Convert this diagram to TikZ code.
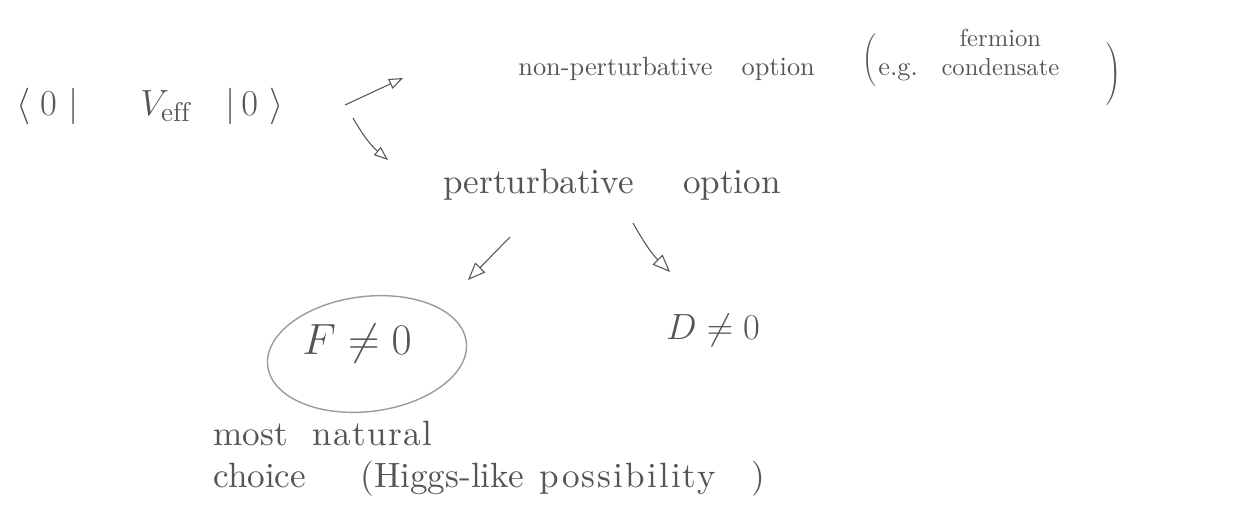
\documentclass[tikz,border=0pt]{standalone}
\usepackage{fontspec}
\setmainfont{lmroman10-regular.otf}
\usetikzlibrary{arrows.meta,shapes.geometric,calc}
\definecolor{pencil}{RGB}{85,85,85}
\definecolor{lightpencil}{RGB}{155,155,155}
\newcommand{\wide}[2]{{\addfontfeature{LetterSpace=#1}#2}}
\newcommand{\tallparen}[3]{\raisebox{#3}{$\left#1\rule[-#2]{0pt}{2\dimexpr#2\relax}\right.$}}
\begin{document}
\begin{tikzpicture}[
  txt/.style={text=pencil, inner sep=0pt},
  arr/.style={draw=pencil, line width=0.6pt, -{Triangle[open,length=8pt,width=6pt]}},
  bigarr/.style={draw=pencil, line width=0.6pt, -{Triangle[open,length=10pt,width=8pt]}},
  oval/.style={ellipse, draw=lightpencil, line width=0.8pt, minimum width=4cm, minimum height=2.3cm, inner sep=0pt}
]
\useasboundingbox (0,0) rectangle (25.1,-10.58);

\node[txt] (bk) at (3.0,-2.12) {\fontsize{22}{26}\selectfont $\langle\hspace{0.25em}0\hspace{0.3em}|\hspace{1.6em}V_{\mathrm{eff}}\hspace{0.9em}|\hspace{0.15em}0\hspace{0.3em}\rangle$};

\node[txt, anchor=base west] (np) at (10.36,-1.50) {\fontsize{15}{18}\selectfont non-perturbative\hspace{1.1em}option\hspace{1.8em}\tallparen{(}{13pt}{5pt}e.g.\hspace{0.9em}{\fontsize{14}{16}\selectfont\begin{tabular}[b]{@{}c@{}}fermion\\condensate\end{tabular}}\hspace{1.8em}\tallparen{)}{15pt}{-3pt}};

\node[txt, anchor=base] (p) at (12.24,-3.86) {\fontsize{20}{24}\selectfont perturbative\hspace{1.4em}option};

\node[oval, rotate=7] (Fo) at (7.34,-7.08) {};
\node[txt] (F) at (7.14,-6.88) {\fontsize{24}{28}\selectfont $F\neq 0$};

\node[txt] (D) at (14.26,-6.6) {\fontsize{22}{26}\selectfont $D\neq 0$};

\node[txt, anchor=north west, align=left, font={\fontsize{20}{24}\selectfont}] (nat) at (4.26,-8.42) {most\hspace{0.7em}\wide{4}{natural}\\choice\hspace{1.55em}(Higgs-like\hspace{0.45em}\wide{6}{possibility}\hspace{1.0em})};

\draw[arr] ($(bk.center)+(3.9,0.02)$) -- ($(np.base west)+(-2.3,-0.06)$);
\draw[arr] ($(bk.center)+(4.06,-0.24)$) to[bend right=10] ($(p.base)+(-4.48,0.66)$);
\draw[bigarr] ($(p.base)+(-2.04,-0.88)$) -- ($(Fo.center)+(2.02,1.48)$);
\draw[bigarr] ($(p.base)+(0.42,-0.6)$) to[bend right=8] ($(D.center)+(-0.86,1.16)$);
\end{tikzpicture}
\end{document}
